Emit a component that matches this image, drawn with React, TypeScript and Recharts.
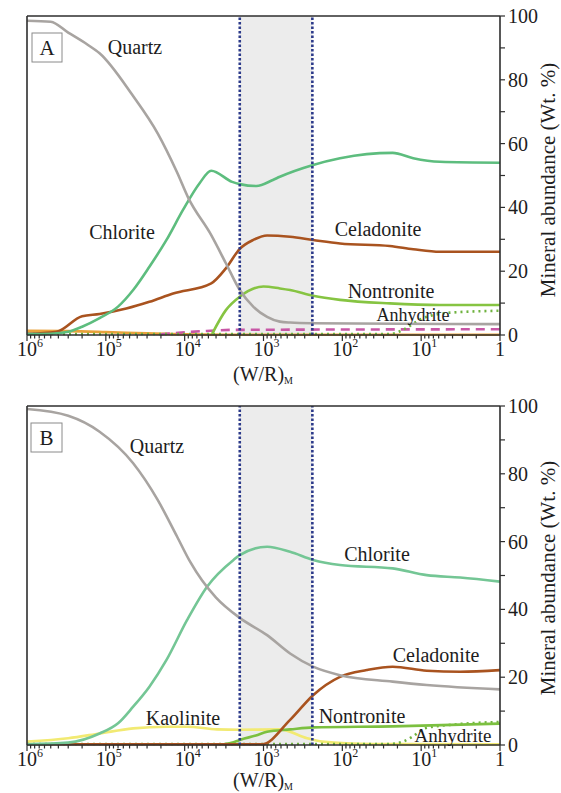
import { LineChart, Line, XAxis, YAxis, ReferenceArea, ReferenceLine } from "recharts";

type Pt = [number, number];

// x: (W/R)_M, y: Wt. %
const decades = [1e6, 1e5, 1e4, 1e3, 1e2, 1e1, 1];
const decadeExps = ["6", "5", "4", "3", "2", "1", ""];
const minorMultiples = [2, 3, 4, 5, 6, 7, 8, 9];
const yTicks = [0, 10, 20, 30, 40, 50, 60, 70, 80, 90, 100];
const yLabelTicks = [0, 20, 40, 60, 80, 100];
const zone = [2000, 240];

// panel A
const quartzA: Pt[] = [[1e6, 98.5], [5e5, 98.2], [3e5, 94.8], [1.7e5, 91], [1.2e5, 88.3], [4.6e4, 75.2], [2.2e4, 63.2], [1.25e4, 51], [9000, 43], [4600, 31.3], [3000, 22.5], [2000, 14.1], [1350, 8.9], [900, 5.7], [620, 4.2], [460, 3.9], [250, 3.7], [1, 3.4]];
const chloriteA: Pt[] = [[1e6, 0.3], [5e5, 0.4], [3e5, 1.0], [2e5, 2.6], [1.2e5, 5.3], [7e4, 8.9], [4.5e4, 14.1], [2.8e4, 21.4], [1.7e4, 29.8], [1.05e4, 39.2], [6500, 47.5], [4600, 51.5], [2500, 48], [2000, 47.3], [1230, 46.7], [760, 48.6], [620, 49.6], [235, 53.3], [107, 55.4], [49, 56.7], [23, 57.1], [12.6, 55.4], [5.8, 54.3], [1, 54.0]];
const celadoniteA: Pt[] = [[1e6, 0.4], [5e5, 0.8], [4.2e5, 1.0], [2e5, 5.9], [1.2e5, 6.6], [5.5e4, 8.3], [2.8e4, 10.4], [1.4e4, 13], [4600, 16.2], [3000, 20.9], [2000, 27], [1350, 29.8], [900, 31.2], [460, 30.8], [235, 29.8], [107, 28.7], [25, 27.9], [12.6, 26.9], [5.8, 26.1], [1, 26.1]];
const nontroniteA: Pt[] = [[4500, 0.3], [3000, 7.8], [2000, 12], [1000, 15.2], [620, 14.6], [460, 14.1], [235, 12.3], [107, 11], [25, 9.9], [5.8, 9.4], [1, 9.4]];
const anhydriteA: Pt[] = [[1e6, 0.3], [25, 0.3], [17, 1.6], [10, 5], [4.3, 7], [1, 7.6]];
const pinkA: Pt[] = [[2e4, 0.2], [1.2e4, 0.7], [6000, 1.2], [2500, 1.6], [1, 1.8]];
const orangeA: Pt[] = [[1e6, 1.3], [3e5, 1.2], [1e5, 0.9], [3e4, 0.5], [1e4, 0.2], [3000, 0.1], [1, 0.1]];

// panel B
const quartzB: Pt[] = [[1e6, 99.1], [3e5, 97.1], [1.2e5, 92.4], [4.5e4, 83.1], [2.2e4, 72.3], [1.25e4, 61.5], [8500, 54.0], [6000, 48.5], [4000, 43.5], [2000, 37.5], [900, 32.4], [460, 27], [235, 23.1], [107, 20.6], [23, 18.7], [8.5, 17.7], [1, 16.4]];
const chloriteB: Pt[] = [[1e6, 0.2], [3e5, 0.7], [1.2e5, 3.4], [7e4, 6.4], [4.5e4, 11.3], [2.8e4, 17.2], [1.7e4, 25.1], [9300, 36.9], [5200, 46.7], [2400, 54.6], [2000, 56], [900, 58.5], [460, 57], [235, 54.6], [107, 53.1], [23, 52.1], [8.5, 50.1], [3.2, 49.4], [1, 48.2]];
const celadoniteB: Pt[] = [[1e6, 0.2], [1050, 0.2], [460, 7.4], [235, 14.7], [107, 20.1], [49, 22.1], [23, 23.1], [8.5, 21.9], [3.2, 21.6], [1, 22.1]];
const nontroniteB: Pt[] = [[3200, 0.2], [2400, 0.8], [2000, 1.5], [1250, 2.8], [900, 3.9], [460, 4.6], [235, 5.2], [23, 5.5], [1, 6.3]];
const anhydriteB: Pt[] = [[1e6, 0.3], [25, 0.3], [17, 1.0], [13, 2.4], [9, 4.9], [4, 6.0], [1, 6.8]];
const kaoliniteB: Pt[] = [[1e6, 1.0], [3e5, 2], [1.2e5, 3.4], [4.5e4, 4.9], [1.7e4, 5.4], [9300, 5.4], [3900, 4.6], [2000, 4.5], [620, 4.6], [280, 2.0], [180, 1.0], [41, 0.3], [1, 0.2]];

const xTicks = [
  ...decades,
  ...decades.slice(1).flatMap((d) => minorMultiples.map((m) => d * m)),
];

const FONT = "'Liberation Serif', 'Times New Roman', serif";
const INK = "#1d1d1d";
const FRAME = "#2e2e2e";

type Series = { key: string; pts: Pt[]; color: string; width?: number; dash?: string };

const seriesA: Series[] = [
  { key: "orange", pts: orangeA, color: "#e9a23b" },
  { key: "pink", pts: pinkA, color: "#c857a6", dash: "9 6" },
  { key: "anhydrite", pts: anhydriteA, color: "#6fb23f", dash: "2 4" },
  { key: "nontronite", pts: nontroniteA, color: "#86c442" },
  { key: "celadonite", pts: celadoniteA, color: "#a9531f" },
  { key: "chlorite", pts: chloriteA, color: "#5dbd7e" },
  { key: "quartz", pts: quartzA, color: "#a8a4a1" },
];

const seriesB: Series[] = [
  { key: "kaolinite", pts: kaoliniteB, color: "#f2ea72" },
  { key: "anhydrite", pts: anhydriteB, color: "#6fb23f", dash: "2 4" },
  { key: "nontronite", pts: nontroniteB, color: "#7cc040" },
  { key: "celadonite", pts: celadoniteB, color: "#a9531f" },
  { key: "chlorite", pts: chloriteB, color: "#74c695" },
  { key: "quartz", pts: quartzB, color: "#a8a4a1" },
];

const serif = { fontFamily: FONT };

function XTick(props: any) {
  const { x, y, payload } = props;
  const v = payload.value;
  const idx = decades.indexOf(v);
  const major = idx >= 0;
  return (
    <g>
      <line x1={x} x2={x} y1={y} y2={y + (major ? 6 : 3.5)} stroke={FRAME} strokeWidth={1.2} />
      {major && decadeExps[idx] === "" && (
        <text x={x} y={y + 21} textAnchor="middle" fontSize={20} fill={INK} style={serif}>1</text>
      )}
      {major && decadeExps[idx] !== "" && (
        <g fill={INK} style={serif}>
          <text x={x} y={y + 21} textAnchor="middle" fontSize={20}>10</text>
          <text x={x + 10} y={y + 12} fontSize={12}>{decadeExps[idx]}</text>
        </g>
      )}
    </g>
  );
}

function YTick(props: any) {
  const { x, y, payload } = props;
  const major = yLabelTicks.includes(payload.value);
  return (
    <g>
      <line x1={x} x2={x + 5} y1={y} y2={y} stroke={FRAME} strokeWidth={1.2} />
      {major && (
        <text x={x + 8} y={y + 7} fontSize={20} fill={INK} style={serif}>{payload.value}</text>
      )}
    </g>
  );
}

function Panel({ top, height, plotTop, plotBottom, series }: { top: number; height: number; plotTop: number; plotBottom: number; series: Series[] }) {
  return (
    <div style={{ position: "absolute", left: 0, top }}>
      <LineChart width={561} height={height} margin={{ top: plotTop, right: 1, bottom: height - plotBottom - 40, left: 27 }}>
        <XAxis
          dataKey="wr"
          type="number"
          scale="log"
          domain={[1, 1e6]}
          reversed
          allowDataOverflow
          ticks={xTicks}
          interval={0}
          tick={<XTick />}
          tickSize={0}
          tickMargin={0}
          tickLine={false}
          axisLine={{ stroke: FRAME, strokeWidth: 1.6 }}
          height={40}
        />
        <YAxis
          orientation="right"
          type="number"
          domain={[0, 100]}
          ticks={yTicks}
          interval={0}
          tick={<YTick />}
          tickSize={0}
          tickMargin={0}
          tickLine={false}
          axisLine={{ stroke: FRAME, strokeWidth: 1.6 }}
          width={60}
        />
        <ReferenceArea x1={zone[0]} x2={zone[1]} y1={0} y2={100} fill="#ececec" fillOpacity={1} stroke="none" />
        {series.map((s) => (
          <Line
            key={s.key}
            data={s.pts.map(([wr, v]) => ({ wr, v }))}
            dataKey="v"
            type="monotone"
            stroke={s.color}
            strokeWidth={s.width ?? 2.6}
            strokeDasharray={s.dash}
            dot={false}
            activeDot={false}
            isAnimationActive={false}
          />
        ))}
        <ReferenceLine x={zone[0]} stroke="#2c3a8a" strokeWidth={2.6} strokeDasharray="2.5 2" />
        <ReferenceLine x={zone[1]} stroke="#2c3a8a" strokeWidth={2.6} strokeDasharray="2.5 2" />
        <ReferenceLine y={100} stroke={FRAME} strokeWidth={1.6} />
        <ReferenceLine x={1e6} stroke={FRAME} strokeWidth={1.6} />
      </LineChart>
    </div>
  );
}

function Txt({ x, y, children, size = 20 }: { x: number; y: number; children: any; size?: number }) {
  return (
    <text x={x} y={y} textAnchor="middle" dominantBaseline="central" fontSize={size} fill={INK} style={serif}>
      {children}
    </text>
  );
}

function AxisTitleX({ y }: { y: number }) {
  return (
    <text x={263} y={y} textAnchor="middle" fontSize={20} fill={INK} style={serif}>
      (W/R)<tspan fontSize={10} dy={3}>M</tspan>
    </text>
  );
}

function AxisTitleY({ cy }: { cy: number }) {
  return (
    <text transform={`translate(548,${cy}) rotate(-90)`} textAnchor="middle" dominantBaseline="central" fontSize={21} fill={INK} style={serif}>
      Mineral abundance (Wt. %)
    </text>
  );
}

export default function App() {
  return (
    <div style={{ position: "absolute", left: 0, top: 0, width: 561, height: 793, background: "#fff", overflow: "hidden" }}>
      <Panel top={0} height={395} plotTop={16} plotBottom={335} series={seriesA} />
      <Panel top={390} height={403} plotTop={16} plotBottom={355} series={seriesB} />
      <svg width={561} height={793} style={{ position: "absolute", left: 0, top: 0, pointerEvents: "none" }}>
        {/* panel A annotations */}
        <rect x={32} y={33} width={30} height={29} fill="#fff" stroke="#8a8a8a" strokeWidth={1} />
        <Txt x={47} y={48} size={21}>A</Txt>
        <Txt x={135} y={47}>Quartz</Txt>
        <Txt x={122} y={232}>Chlorite</Txt>
        <Txt x={378} y={229}>Celadonite</Txt>
        <Txt x={391} y={291}>Nontronite</Txt>
        <Txt x={413} y={315} size={18}>Anhydrite</Txt>
        <AxisTitleX y={381} />
        <AxisTitleY cy={180} />

        {/* panel B annotations */}
        <rect x={31} y={423} width={31} height={29} fill="#fff" stroke="#8a8a8a" strokeWidth={1} />
        <Txt x={46.5} y={437.5} size={21}>B</Txt>
        <Txt x={157} y={446}>Quartz</Txt>
        <Txt x={377} y={554}>Chlorite</Txt>
        <Txt x={436} y={655}>Celadonite</Txt>
        <Txt x={362} y={716}>Nontronite</Txt>
        <Txt x={183} y={718}>Kaolinite</Txt>
        <Txt x={453} y={735} size={19}>Anhydrite</Txt>
        <AxisTitleX y={787} />
        <AxisTitleY cy={578} />
      </svg>
    </div>
  );
}
